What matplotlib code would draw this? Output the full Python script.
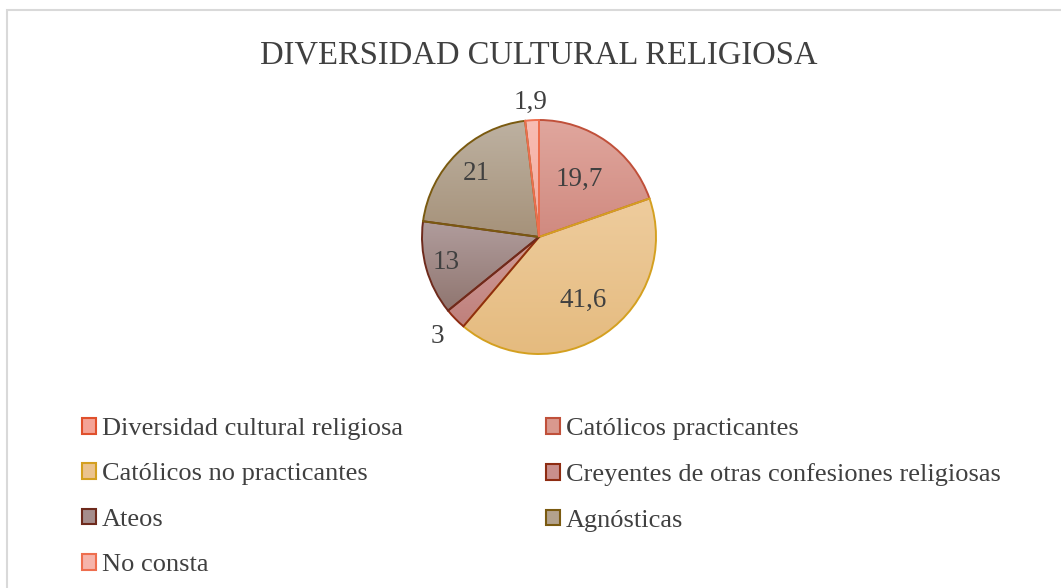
import matplotlib
matplotlib.use("Agg")
import matplotlib.pyplot as plt
from matplotlib.patches import Patch, Rectangle
from matplotlib.colors import LinearSegmentedColormap, to_rgb
import numpy as np

plt.rcParams['font.family'] = ['Liberation Serif', 'DejaVu Serif']

categories = ['Diversidad cultural religiosa', 'Católicos practicantes',
              'Católicos no practicantes', 'Creyentes de otras confesiones religiosas',
              'Ateos', 'Agnósticas', 'No consta']
values = [0, 19.7, 41.6, 3, 13, 21, 1.9]
value_labels = ['', '19,7', '41,6', '3', '13', '21', '1,9']

fills = ['#f4a396', '#d9998e', '#ebc38e', '#c98f8c', '#a58d8c', '#b3a28d', '#f6b4aa']
tops = ['#f7b3a8', '#e0a69d', '#eecc9d', '#d09d9a', '#b09c9c', '#bdb1a1', '#f8bdb4']
bottoms = ['#ee9080', '#d08a80', '#e5bb7f', '#bf807c', '#907670', '#a6927a', '#f2a89c']
edges = ['#e0502c', '#c0503a', '#d4a020', '#8e2c12', '#6e2a1c', '#7a5a10', '#ee6e4e']
label_r = [0, 0.60, 0.66, 1.22, 0.82, 0.76, 1.15]

txt = '#404040'

fig = plt.figure(figsize=(10.61, 5.88), dpi=100)
W, H = 1061, 588

# chart frame (runs off the right and bottom edges)
fig.patches.append(Rectangle((7 / W, -0.1), 1.1, (H - 9.5) / H + 0.1, transform=fig.transFigure,
                             fill=False, edgecolor='#d9d9d9', linewidth=1.5))

fig.text(539 / W, 1 - 55 / H, 'DIVERSIDAD CULTURAL RELIGIOSA', ha='center', va='center',
         fontsize=23.5, color=txt)

R = 117
cx, cy = 539, 237
ax = fig.add_axes([(cx - R) / W, (H - cy - R) / H, 2 * R / W, 2 * R / H])
wedges, _ = ax.pie(values, colors=fills, startangle=90, counterclock=False, radius=1,
                   wedgeprops=dict(linewidth=1.4))
grad = np.linspace(0, 1, 64).reshape(-1, 1)
for w, e, v, t, b in zip(wedges, edges, values, tops, bottoms):
    w.set_edgecolor(e)
    w.set_zorder(3)
    if v == 0:
        w.set_linewidth(0)
        continue
    ext = w.get_path().get_extents()
    cmap = LinearSegmentedColormap.from_list('g', [to_rgb(t), to_rgb(b)])
    im = ax.imshow(grad, cmap=cmap, aspect='auto', interpolation='bilinear',
                   extent=[ext.x0, ext.x1, ext.y0, ext.y1], zorder=2)
    im.set_clip_path(w)
    w.set_facecolor('none')
ax.set_xlim(-1, 1)
ax.set_ylim(-1, 1)
ax.set_aspect('equal')
ax.axis('off')

for w, lab, r in zip(wedges, value_labels, label_r):
    if not lab:
        continue
    ang = np.deg2rad((w.theta1 + w.theta2) / 2)
    ax.text(r * np.cos(ang), r * np.sin(ang), lab, ha='center', va='center',
            fontsize=19.5, color=txt, clip_on=False, zorder=4)

handles = [Patch(facecolor=f, edgecolor=e, linewidth=1.5) for f, e in zip(fills, edges)]
order = [0, 2, 4, 6, 1, 3, 5]
leg = fig.legend([handles[i] for i in order], [categories[i] for i in order],
                 ncol=2, loc='upper left', bbox_to_anchor=(82 / W, 1 - 418 / H),
                 frameon=False, fontsize=19, handlelength=0.53, handleheight=0.53,
                 handletextpad=0.23, columnspacing=5.4, labelspacing=0.88,
                 borderaxespad=0, borderpad=0)
for t in leg.get_texts():
    t.set_color(txt)

fig.savefig('out.png', dpi=100)
